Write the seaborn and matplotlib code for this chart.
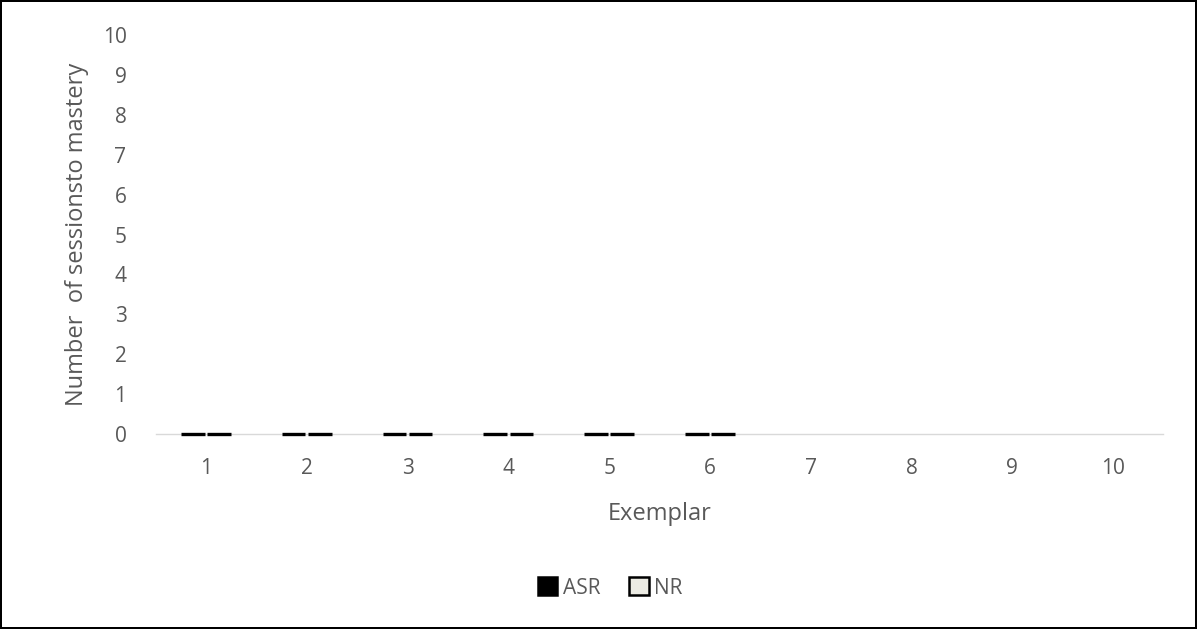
import numpy as np
import pandas as pd
import seaborn as sns
import matplotlib.pyplot as plt

# данные: число сессий до освоения по каждому образцу
exemplars = ['1', '2', '3', '4', '5', '6', '7', '8', '9', '10']
asr = [0, 0, 0, 0, 0, 0, np.nan, np.nan, np.nan, np.nan]
nr = [0, 0, 0, 0, 0, 0, np.nan, np.nan, np.nan, np.nan]

df = pd.DataFrame({
    'Exemplar': exemplars * 2,
    'Sessions': asr + nr,
    'Condition': ['ASR'] * len(exemplars) + ['NR'] * len(exemplars),
})

sns.set_style('white')
plt.rcParams['font.family'] = ['Open Sans', 'DejaVu Sans']

text_color = '#595959'

fig = plt.figure(figsize=(11.97, 6.29), dpi=100)
fig.patch.set_edgecolor('black')
fig.patch.set_linewidth(1.5)
ax = fig.add_axes([0.130, 0.310, 0.842, 0.634])

sns.barplot(data=df, x='Exemplar', y='Sessions', hue='Condition',
            order=exemplars, hue_order=['ASR', 'NR'],
            palette={'ASR': 'black', 'NR': '#eeece1'},
            edgecolor='black', linewidth=1.8, width=0.52, gap=0.1,
            ax=ax)
xlim = ax.get_xlim()

ax.set_ylim(0, 10)
ax.set_yticks(range(0, 11))
ax.tick_params(axis='both', length=0, labelsize=15, colors=text_color)
ax.tick_params(axis='y', pad=21)
ax.tick_params(axis='x', pad=17)

for side in ['top', 'right', 'left']:
    ax.spines[side].set_visible(False)
ax.spines['bottom'].set_color('#d9d9d9')
ax.spines['bottom'].set_linewidth(1)

ax.set_xlabel('Exemplar', fontsize=17, color=text_color, labelpad=17)
ax.set_ylabel('Number  of sessionsto mastery', fontsize=17, color=text_color, labelpad=10)

leg = ax.legend(loc='center', bbox_to_anchor=(0.451, -0.386), ncol=2,
                frameon=False, fontsize=15, handlelength=0.95, handleheight=0.95,
                handletextpad=0.25, columnspacing=1.4)
for t in leg.get_texts():
    t.set_color(text_color)

# столбики нулевой высоты: рисуем их контур одной сплошной линией
for p in ax.patches:
    if p.get_height() == 0:
        x0 = p.get_x()
        ax.plot([x0, x0 + p.get_width()], [p.get_y(), p.get_y()],
                color='black', lw=2.4, solid_capstyle='butt', clip_on=False, zorder=3)
        p.set_linewidth(0)
ax.set_xlim(xlim)

plt.savefig('out.png', dpi=100)
